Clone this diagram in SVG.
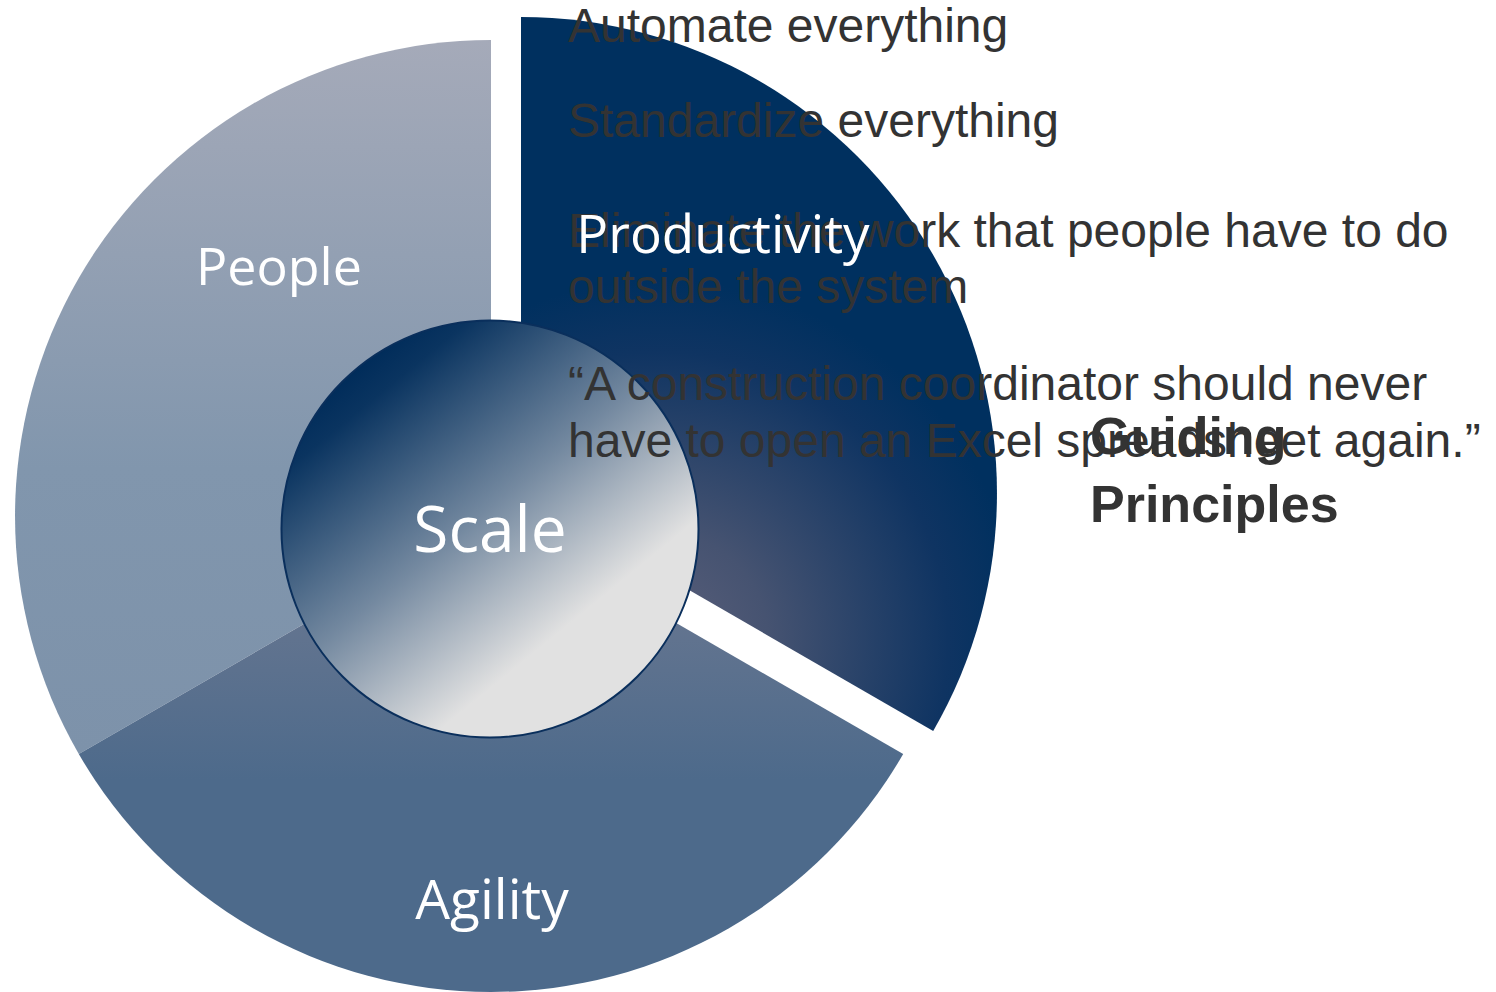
<svg xmlns="http://www.w3.org/2000/svg" width="1496" height="992" viewBox="0 0 1496 992">
  <style>
    .lbl { font-family: "Open Sans", "DejaVu Sans", sans-serif; fill: #ffffff; text-anchor: middle; }
    .body { font-family: "Liberation Sans", Arial, sans-serif; fill: #333333; font-size: 48px; }
    .head { font-family: "Liberation Sans", Arial, sans-serif; fill: #333333; font-size: 52px; font-weight: bold; }
  </style>
  <defs>
    <linearGradient id="gPeople" gradientUnits="userSpaceOnUse" x1="0" y1="40" x2="0" y2="754">
      <stop offset="0" stop-color="#a5aab9"/>
      <stop offset="0.6" stop-color="#8196ad"/>
      <stop offset="1" stop-color="#7d92aa"/>
    </linearGradient>
    <linearGradient id="gAgility" gradientUnits="userSpaceOnUse" x1="0" y1="560" x2="0" y2="780">
      <stop offset="0" stop-color="#6b7891"/>
      <stop offset="1" stop-color="#4d6a8b"/>
    </linearGradient>
    <radialGradient id="gProd" gradientUnits="userSpaceOnUse" cx="660" cy="640" r="360">
      <stop offset="0" stop-color="#5a5f7a"/>
      <stop offset="0.3" stop-color="#465371"/>
      <stop offset="0.8" stop-color="#0f3462"/>
      <stop offset="1" stop-color="#00305f"/>
    </radialGradient>
    <linearGradient id="gScale" x1="0.234" y1="0.068" x2="0.766" y2="0.72">
      <stop offset="0" stop-color="#002c5a"/>
      <stop offset="0.1" stop-color="#0a3460"/>
      <stop offset="0.55" stop-color="#7489a0"/>
      <stop offset="0.95" stop-color="#e1e1e1"/>
      <stop offset="1" stop-color="#e1e1e1"/>
    </linearGradient>
  </defs>

  <g id="people">
    <path d="M491,516 L491,40 A476,476 0 0 0 78.8,754 Z" fill="url(#gPeople)"/>
  </g>
  <g id="agility">
    <path d="M491,516 L78.8,754 A476,476 0 0 0 903.2,754 Z" fill="url(#gAgility)"/>
  </g>
  <g id="productivity">
    <path d="M521,493 L521,17 A476,476 0 0 1 933.2,731 Z" fill="url(#gProd)"/>
  </g>
  <g id="scale">
    <circle cx="490" cy="529" r="208.5" fill="url(#gScale)" stroke="#0a2f5c" stroke-width="2"/>
  </g>

  <g id="bullets">
    <text class="body" x="568" y="42">Automate everything</text>
    <text class="body" x="568" y="137">Standardize everything</text>
    <text class="body" x="568" y="247">Eliminate the work that people have to do</text>
    <text class="body" x="568" y="303">outside the system</text>
    <text class="body" x="568" y="400">“A construction coordinator should never</text>
    <text class="body" x="568" y="457">have to open an Excel spreadsheet again.”</text>
  </g>

  <g id="labels">
    <text class="lbl" x="279" y="285" font-size="52">People</text>
    <text class="lbl" x="723" y="253" font-size="53">Productivity</text>
    <text class="lbl" x="492" y="919" font-size="55">Agility</text>
    <text class="lbl" x="490" y="552" font-size="64">Scale</text>
  </g>

  <g id="guiding-principles">
    <text class="head" x="1090" y="454">Guiding</text>
    <text class="head" x="1090" y="522">Principles</text>
  </g>
</svg>
